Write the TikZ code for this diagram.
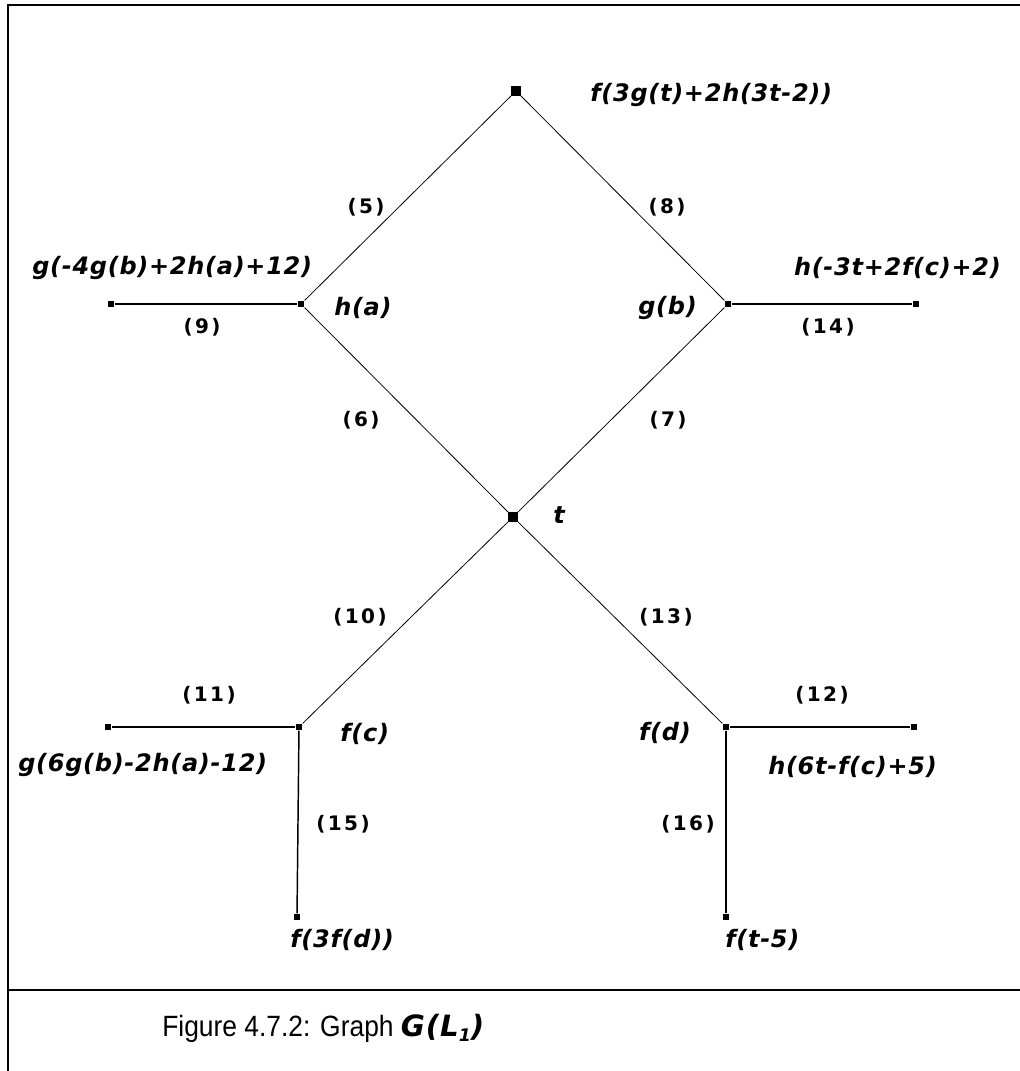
\documentclass[tikz,border=0pt]{standalone}
\usepackage{fontspec}
\setmainfont{DejaVu Sans}
\newfontfamily\exprfont[LetterSpace=3]{DejaVu Sans}
\newfontfamily\numfont[LetterSpace=12]{DejaVu Sans}
\newfontfamily\capfont[FakeStretch=0.9]{Liberation Sans}
\tikzset{
  vtx/.style={fill=black, draw=none, inner sep=0pt, minimum size=5pt},
  bigvtx/.style={fill=black, draw=none, inner sep=0pt, minimum size=7pt},
  diag/.style={line width=0.6pt},
  strt/.style={line width=1.1pt},
  framestyle/.style={line width=1.4pt},
  expr/.style={font=\exprfont\bfseries\itshape\fontsize{18}{21}\selectfont, inner sep=0pt},
  num/.style={font=\numfont\bfseries\fontsize{15}{18}\selectfont, inner sep=0pt},
  captext/.style={font=\capfont\fontsize{22}{25}\selectfont, inner sep=0pt}
}
\begin{document}
\begin{tikzpicture}[x=0.75pt,y=-0.75pt]
\useasboundingbox (0,0) rectangle (1020,1071);
% frame
\coordinate (c1) at (8,1071);
\coordinate (c2) at (8,5);
\coordinate (c3) at (1020,5);
\coordinate (s1) at (8,990);
\coordinate (s2) at (1020,990);
\draw[framestyle] (c1) -- (c2) -- (c3);
\draw[framestyle] (s1) -- (s2);
% vertices
\node[bigvtx] (top) at (516,91) {};
\node[vtx] (ha) at (301,304) {};
\node[vtx] (l9) at (111,304) {};
\node[vtx] (gb) at (728,304) {};
\node[vtx] (r14) at (916,304) {};
\node[bigvtx] (t) at (513,517) {};
\node[vtx] (fc) at (299,727) {};
\node[vtx] (l11) at (108,727) {};
\node[vtx] (fd) at (726,727) {};
\node[vtx] (r12) at (914,727) {};
\node[vtx] (bl) at (297,917) {};
\node[vtx] (br) at (726,917) {};
% edges
\draw[diag] (ha) -- (top);
\draw[diag] (top) -- (gb);
\draw[diag] (ha) -- (t);
\draw[diag] (gb) -- (t);
\draw[diag] (t) -- (fc);
\draw[diag] (t) -- (fd);
\draw[strt] (l9) -- (ha);
\draw[strt] (gb) -- (r14);
\draw[strt] (l11) -- (fc);
\draw[strt] (fd) -- (r12);
\draw[strt] (fc) -- (bl);
\draw[strt] (fd) -- (br);
% vertex labels
\node[expr, anchor=west] (Ltop) at (590,95) {f(3g(t)+2h(3t-2))};
\node[expr, anchor=west] (L9) at (32,268) {g(-4g(b)+2h(a)+12)};
\node[expr, anchor=west] (Lha) at (334,308) {h(a)};
\node[expr, anchor=east] (Lgb) at (697,308) {g(b)};
\node[expr, anchor=east] (L14) at (1001,268) {h(-3t+2f(c)+2)};
\node[expr, anchor=west] (Lt) at (553,515) {t};
\node[expr, anchor=west] (Lfc) at (340,734) {f(c)};
\node[expr, anchor=east] (Lfd) at (691,733) {f(d)};
\node[expr, anchor=west] (L11) at (18,765) {g(6g(b)-2h(a)-12)};
\node[expr, anchor=west] (L12) at (768,767) {h(6t-f(c)+5)};
\node[expr, anchor=west] (Lbl) at (290,940) {f(3f(d))};
\node[expr, anchor=west] (Lbr) at (725,940) {f(t-5)};
% edge labels
\node[num] (e5) at (366,207) {(5)};
\node[num] (e8) at (667,207) {(8)};
\node[num] (e9) at (202,327) {(9)};
\node[num] (e14) at (828,327) {(14)};
\node[num] (e6) at (361,420) {(6)};
\node[num] (e7) at (668,420) {(7)};
\node[num] (e10) at (360,617) {(10)};
\node[num] (e13) at (666,617) {(13)};
\node[num] (e11) at (209,695) {(11)};
\node[num] (e12) at (822,695) {(12)};
\node[num] (e15) at (343,824) {(15)};
\node[num] (e16) at (688,824) {(16)};
% caption
\node[captext, anchor=west] (capt) at (162,1028) {Figure 4.7.2: Graph {\exprfont\bfseries\itshape G(L\raisebox{-0.35ex}{\fontsize{13}{15}\selectfont 1})}};
\end{tikzpicture}
\end{document}
